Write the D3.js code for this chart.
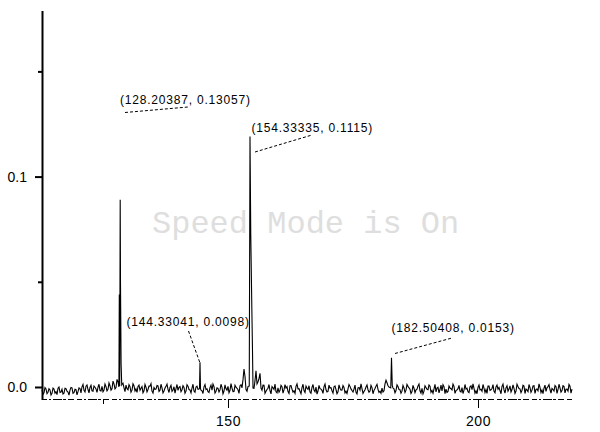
<!DOCTYPE html>
<html>
<head>
<meta charset="utf-8">
<script src="https://cdn.jsdelivr.net/npm/d3@7"></script>
<style>
  html, body { margin: 0; padding: 0; background: #fff; }
  svg { display: block; }
</style>
</head>
<body>
<svg id="chart" width="600" height="432"></svg>
<script>
// ---------------- data ----------------
// baseline noise (intensity in thousandths), two interleaved sample sets
const noiseStartA = 112.8;
const noiseStartB = 113.0;
const noiseStep = 0.4;
const noiseMilliA = [
  -1.2, -2.8, -0.9, -2.5, -1.4, -3.0, -1.0, -2.2, -0.6, -2.6,
  -1.1, -2.9, -0.8, -2.4, -1.5, -0.4, -2.7, -1.3, -2.2, -0.7,
   0.1, -1.6,  0.4, -1.2, -0.2, -1.8,  0.5, -0.9, -0.1, -1.7,
   0.3, -1.4,  0.2, -1.1,  0.6, -0.8,  1.5, -0.3,  2.4,  0.8,
   1.2, -0.4,  0.9, -1.3,  0.2, -1.5,  0.6, -0.9,  0.3, -1.6,
   0.2, -1.8, -0.1, -1.2,  0.4, -2.0, -0.3, -1.0,  0.5, -1.5,
  -0.4, -1.9,  0.3, -1.1, -0.2, -2.1,  0.1, -0.8, -1.6,  0.2,
  -1.3, -0.2, -2.0,  0.4, -1.4, -0.5, -1.9,  0.0, -1.1, -0.6,
  -1.8,  0.1, -1.2, -2.2, -0.3, -1.5,  0.2, -2.0, -0.7, -1.4,
  -0.2, -1.9, -0.8,  0.3, -1.6, -0.5, -2.1, -0.1, -1.3,  0.6,
  -0.4,  8.5, -1.2,  0.2,  0.0,  3.0, -0.6,  7.7,  2.5,  6.5,
  -1.5,  0.8, -2.0, -0.6, -1.7,  0.2, -1.2, -2.3, -0.4, -1.6,
   0.1, -1.4, -0.5, -2.2,  0.6, -1.0, -1.8,  0.3, -0.9, -2.0,
  -0.3, -1.7,  0.4, -1.1, -2.4, -0.2, -1.5,  0.0, -1.9, -0.8,
  -1.6,  0.2, -1.3, -2.1, -0.5, -1.8,  0.1, -1.2, -2.3, -0.6,
  -1.4, -0.2, -2.0, -0.9,  0.3, -1.7, -1.0, -2.5, -0.4, -1.5,
  -0.8, -2.1,  0.0, -1.3, -1.9, -0.3, -1.6,  0.4, -1.1, -2.0,
  -0.5, -1.8,  3.2,  0.6, -0.2,  0.0, -0.9, -1.7,  0.2, -1.3,
  -2.0, -0.4, -1.5,  0.3, -1.1, -2.2, -0.6, -1.4,  0.5, -1.8,
  -0.7, -2.0, -0.2, -1.3,  0.4, -1.6, -0.9, -2.3, -0.1, -1.2,
  -1.9,  0.2, -1.0, -2.1, -0.5, -1.4,  0.3, -1.7, -0.8, -2.0,
  -0.3, -1.5, -1.0, -2.2,  0.1, -1.3, -0.6, -1.8, -0.2, -1.4,
  -2.0, -0.5, -1.2,  0.4, -1.6, -0.7, -2.1,  0.0, -1.1, -1.7,
   0.3, -1.4, -0.4, -2.0,  0.5, -1.2, -0.6, -1.9,  0.2, -0.9,
  -1.6,  0.4, -1.0, -2.2, -0.3, -1.5,  0.6, -1.1, -1.8, -0.2,
  -1.4, -0.5, -2.1,  0.2, -1.2, -0.7, -1.9,  0.1, -1.3, -0.4,
  -1.7,  0.3, -1.1, -2.0,  0.4, -1.0
];
const noiseMilliB = [
  -3.5, -0.3, -3.2, -0.8, -3.8, -0.5, -2.9, -3.6,  0.0, -2.4,
  -3.3, -0.6, -2.0, -3.9, -0.2, -3.0, -1.1, -3.7, -0.4, -2.8,
   1.2, -2.4,  1.0, -2.8,  0.8, -2.0, -0.1, -2.6,  1.3, -1.9,
  -2.2,  1.4, -1.8,  1.9, -1.5,  2.8, -0.9,  3.6,  0.0,  0.0,
   1.8, -2.2, -0.8,  1.1, -2.5,  1.5, -1.9, -2.6,  0.9, -0.6,
  -2.7,  1.2, -2.3,  0.4,  1.6, -2.9, -1.1,  0.7, -2.1,  1.3,
  -2.8, -0.5,  1.4, -2.6,  0.8, -1.4, -2.9,  1.2, -0.2, -2.2,
   0.6, -3.0,  1.1, -1.2, -2.8,  1.3, -2.5,  0.4, -1.0, -1.5,
  -3.1,  1.2, -0.9, -2.6,  0.9,  1.4, -2.9, -0.4, -2.4,  1.3,
  -3.2,  1.0, -1.5, -2.7,  1.6, -2.2,  0.8, -0.6, -3.0,  1.1,
   3.5,  5.0, -2.0,  0.5,  0.0,  0.0,  3.0,  1.5,  4.0, -0.5,
   0.9, -3.0, -1.2,  1.2, -3.3, -0.4,  1.4, -2.8, -2.5,  0.8,
  -2.9,  1.1,  0.2, -3.1,  0.7, -2.4, -3.0,  1.5, -0.8, -3.2,
   1.3, -2.6, -0.6,  0.6, -3.0,  1.2, -2.3, -3.4,  0.8, -1.0,
  -3.0,  1.4, -2.4,  0.9, -0.3, -2.9,  0.5, -3.2,  1.0, -1.5,
   0.7, -2.8, -3.1,  1.2, -0.9, -2.4,  0.9, -3.3, -0.2,  1.5,
  -3.0, -1.3,  1.0, -2.5,  0.8, -3.2, -0.7,  1.3, -2.6, -3.0,
  -2.4,  1.5,  2.0,  0.0,  0.0, -0.5, -2.8,  1.0, -1.2, -3.0,
   0.7, -2.6,  1.2, -0.4, -3.1,  0.8, -2.7, -1.0,  1.4, -2.9,
  -3.3,  0.6, -1.1,  1.0, -2.5, -3.0,  1.3, -0.5, -2.8,  0.9,
   1.1, -3.2, -2.6,  0.5, -0.8,  1.4, -3.0, -1.4,  0.8, -2.4,
  -3.1,  1.2, -0.6, -2.7,  0.6,  1.5, -2.9, -3.2,  0.9, -1.1,
   1.2, -2.6, -3.0,  0.4, -1.3,  1.1, -2.8,  0.9, -0.2, -3.2,
   1.4, -2.9,  0.6, -1.0, -2.4,  1.0, -3.0,  1.3, -0.7, -2.7,
   0.8, -3.1, -1.4,  1.2, -2.5,  0.5, -3.0, -0.9,  1.5, -2.6,
  -3.2,  0.9, -0.4,  1.1, -2.9, -1.2,  0.7, -3.0,  1.3, -2.4,
   0.6, -2.8, -1.0,  1.2, -2.9
];

// peak clusters [x, intensity in thousandths], as drawn in the picture
const peak128 = [[128.18, 0.0], [128.26, 44], [128.34, 0.5], [128.44, 89], [128.50, 49], [128.62, 11], [128.75, 1.0]];
const peak144 = [[144.30, -0.6], [144.40, 11.8], [144.50, -0.8]];
const peak154 = [[154.25, 0.2], [154.40, 119], [154.55, 73], [154.75, 40], [154.90, 17], [155.00, -0.5]];
const peak182 = [[182.55, -0.4], [182.70, 13.9], [182.85, 0.8]];
const peakClusters = [peak128, peak144, peak154, peak182];

const annotLabels = ["(128.20387, 0.13057)", "(154.33335, 0.1115)", "(144.33041, 0.0098)", "(182.50408, 0.0153)"];

const yMajorTicks = [0.0, 0.1];
const yMinorTicks = [0.05, 0.15];
const xMajorTicks = [150, 200];
const xMinorTicks = [125];
const watermark = "Speed Mode is On";

// ---------------- layout ----------------
const W = 600, H = 432;
const plot = { left: 42, right: 573, top: 11, bottom: 400 };
const annotLayout = [
  { tx: 120, ty: 103.5, x1: 125, y1: 112.5, x2: 188, y2: 107 },
  { tx: 251.5, ty: 132, x1: 255, y1: 152, x2: 312, y2: 135 },
  { tx: 126.5, ty: 325.5, x1: 188.5, y1: 331, x2: 200, y2: 363 },
  { tx: 391.5, ty: 331.5, x1: 395, y1: 353.5, x2: 452, y2: 338 }
];

// ---------------- build series ----------------
const windows = peakClusters.map(c => [c[0][0], c[c.length - 1][0]]);
let series = noiseMilliA.map((v, i) => [noiseStartA + i * noiseStep, v])
  .concat(noiseMilliB.map((v, i) => [noiseStartB + i * noiseStep, v]));
series = series.filter(([xv]) => !windows.some(([a, b]) => xv >= a - 1e-9 && xv <= b + 1e-9));
peakClusters.forEach(c => c.forEach(p => series.push(p)));
series.sort((a, b) => a[0] - b[0]);
series = series.map(([xv, v]) => [xv, v / 1000]);

// ---------------- scales ----------------
const x = d3.scaleLinear().domain([112.8, 219.0]).range([plot.left, plot.right]);
const y = d3.scaleLinear().domain([-0.00618, 0.1787]).range([plot.bottom, plot.top]);

const svg = d3.select("#chart");
svg.append("rect").attr("width", W).attr("height", H).attr("fill", "#fff");

// watermark (behind data)
svg.append("text")
  .attr("x", 152).attr("y", 233)
  .attr("font-family", "'Liberation Mono', 'DejaVu Sans Mono', monospace")
  .attr("font-size", 32)
  .attr("fill", "#dedede")
  .text(watermark);

// bottom axis (broken line look)
svg.append("line")
  .attr("x1", plot.left).attr("x2", plot.right)
  .attr("y1", 399.5).attr("y2", 399.5)
  .attr("stroke", "#000").attr("stroke-width", 1)
  .attr("stroke-dasharray", "5,2,2,2,9,1,3,2,6,3");

const xAxis = d3.axisBottom(x).tickValues(xMajorTicks).tickSize(8).tickPadding(8).tickFormat(d3.format("d"));
const gx = svg.append("g").attr("transform", `translate(0,${plot.bottom})`).call(xAxis);
gx.select(".domain").remove();
gx.selectAll("line").attr("stroke", "#000").attr("stroke-width", 1);
gx.selectAll("text").attr("font-family", "'Liberation Sans', Arial, sans-serif").attr("font-size", 14).attr("fill", "#000").attr("letter-spacing", "0.5px");

const xAxisMinor = d3.axisBottom(x).tickValues(xMinorTicks).tickSize(4).tickFormat("");
const gxm = svg.append("g").attr("transform", `translate(0,${plot.bottom})`).call(xAxisMinor);
gxm.select(".domain").remove();
gxm.selectAll("line").attr("stroke", "#000");

// left axis
const yAxis = d3.axisLeft(y).tickValues(yMajorTicks).tickSize(7).tickPadding(8).tickFormat(d3.format(".1f"));
const gy = svg.append("g").attr("transform", `translate(${plot.left},0)`).call(yAxis);
gy.select(".domain").remove();
gy.selectAll("line").attr("stroke", "#000").attr("stroke-width", 2);
gy.selectAll("text").attr("font-family", "'Liberation Sans', Arial, sans-serif").attr("font-size", 14).attr("fill", "#000");

const yAxisMinor = d3.axisLeft(y).tickValues(yMinorTicks).tickSize(4).tickFormat("");
const gym = svg.append("g").attr("transform", `translate(${plot.left},0)`).call(yAxisMinor);
gym.select(".domain").remove();
gym.selectAll("line").attr("stroke", "#000").attr("stroke-width", 2);

svg.append("line")
  .attr("x1", plot.left + 0.5).attr("x2", plot.left + 0.5)
  .attr("y1", plot.top).attr("y2", plot.bottom)
  .attr("stroke", "#000").attr("stroke-width", 2);

// spectrum line
const line = d3.line().x(d => x(d[0])).y(d => y(d[1]));
svg.append("path")
  .datum(series)
  .attr("d", line)
  .attr("fill", "none")
  .attr("stroke", "#000")
  .attr("stroke-width", 1.1);

// annotations
annotLayout.forEach((a, i) => {
  svg.append("line")
    .attr("x1", a.x1).attr("y1", a.y1).attr("x2", a.x2).attr("y2", a.y2)
    .attr("stroke", "#000").attr("stroke-width", 1)
    .attr("stroke-dasharray", "3,2");
  svg.append("text")
    .attr("x", a.tx).attr("y", a.ty)
    .attr("font-family", "'Liberation Sans', Arial, sans-serif")
    .attr("font-size", 12)
    .attr("letter-spacing", "0.8px")
    .attr("fill", "#000")
    .text(annotLabels[i]);
});
</script>
</body>
</html>
